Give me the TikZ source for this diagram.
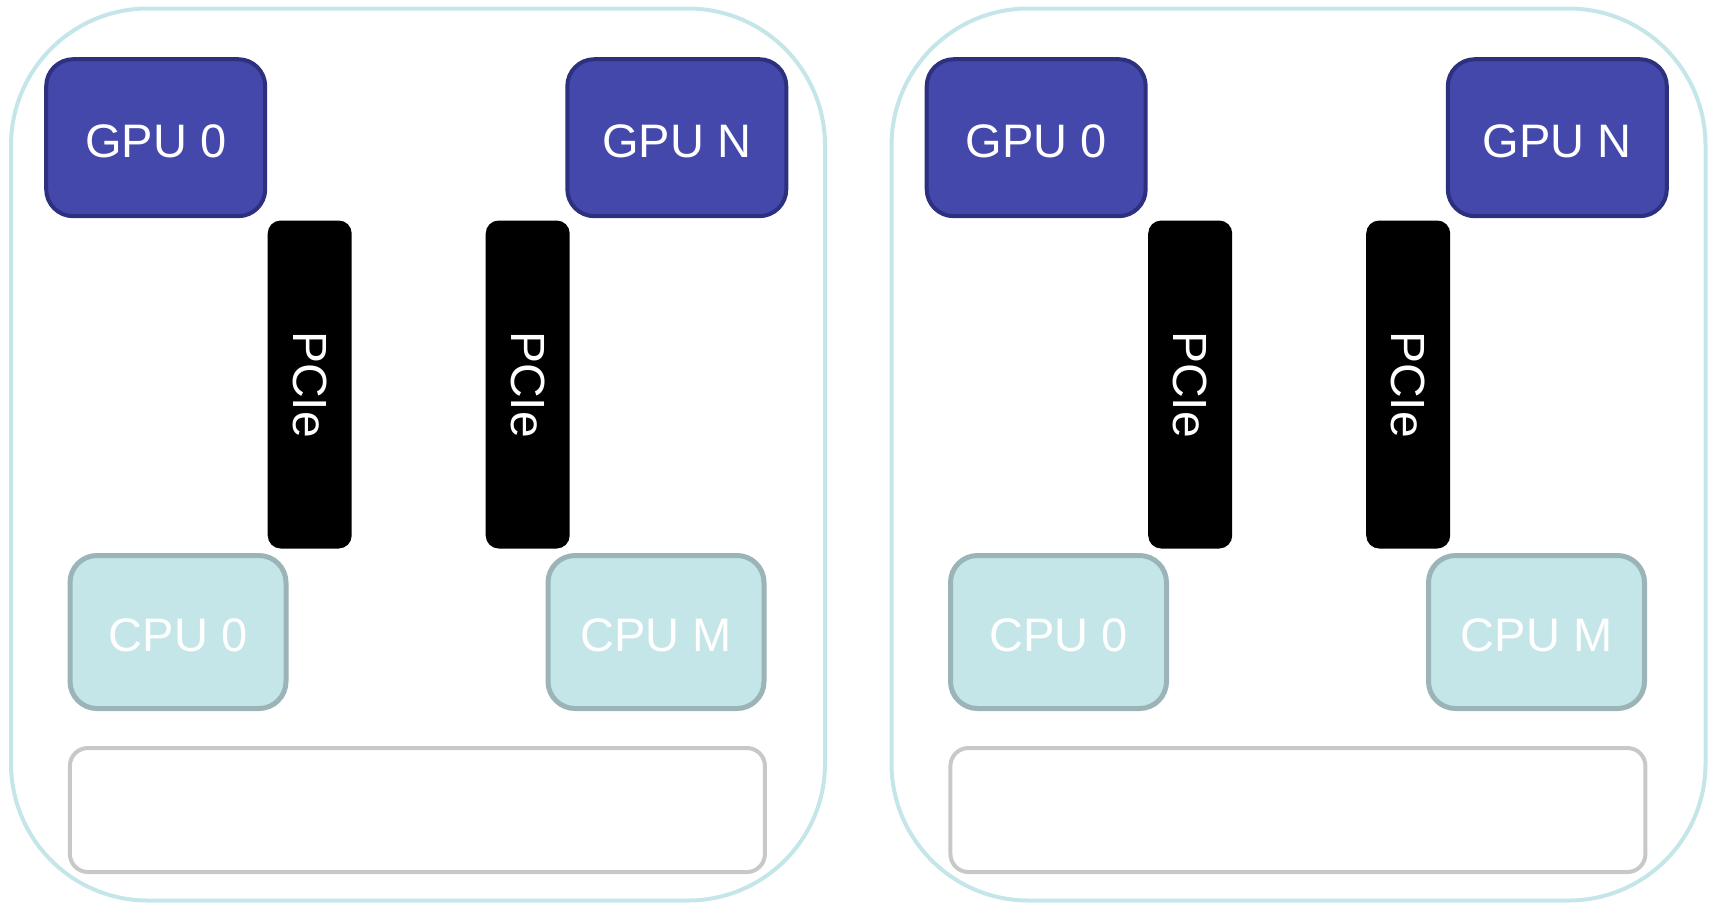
\documentclass[tikz,border=0pt]{standalone}
\usepackage{fontspec}
\setmainfont{Liberation Sans}
\usetikzlibrary{positioning}
\definecolor{gpufill}{RGB}{67,72,170}
\definecolor{gpuline}{RGB}{44,48,126}
\definecolor{cpufill}{RGB}{197,230,233}
\definecolor{cpuline}{RGB}{155,180,183}
\definecolor{memline}{RGB}{200,200,200}

\begin{document}
\begin{tikzpicture}[x=1pt,y=-1pt,
        board/.style={draw=cpufill,line width=4pt,rounded corners=137pt,
                      minimum width=814pt,minimum height=892pt,inner sep=0pt},
        gpu/.style={draw=gpuline,fill=gpufill,line width=4pt,
                    rounded corners=27pt,minimum width=219pt,
                    minimum height=157pt,text=white,text height=39.5pt,
                    font=\fontsize{47}{56}\selectfont},
        cpu/.style={draw=cpuline,fill=cpufill,line width=5pt,
                    rounded corners=27pt,minimum width=216pt,
                    minimum height=153pt,text=white,text height=39.5pt,
                    font=\fontsize{47}{56}\selectfont},
        pcie/.style={fill=black,rounded corners=13pt,rotate=-90,
                     minimum width=328pt,minimum height=84pt,
                     text=white,font=\fontsize{48}{56}\selectfont},
        mem/.style={draw=memline,line width=4pt,rounded corners=18pt,
                    minimum width=695pt,minimum height=124pt},
      ]
        \useasboundingbox (0,0) rectangle (1713,903);
        % two identical boards side by side
        \foreach \s/\dx in {l/0,r/880.5}{
          \begin{scope}[xshift=\dx pt]
            \node[board](board\s) at (418,454.5){};
            \node[gpu](gpuz\s) at (155.7,137.7){GPU 0};
            \node[gpu](gpun\s) at (676.8,137.7){GPU N};
            \node[pcie](pciea\s) at (309.7,384.5){PCIe};
            \node[pcie](pcieb\s) at (527.7,384.5){PCIe};
            \node[cpu](cpuz\s) at (178,632){CPU 0};
            \node[cpu](cpum\s) at (656,632){CPU M};
            \node[mem](mem\s) at (417.4,810){};
          \end{scope}
        }
      \end{tikzpicture}
\end{document}
